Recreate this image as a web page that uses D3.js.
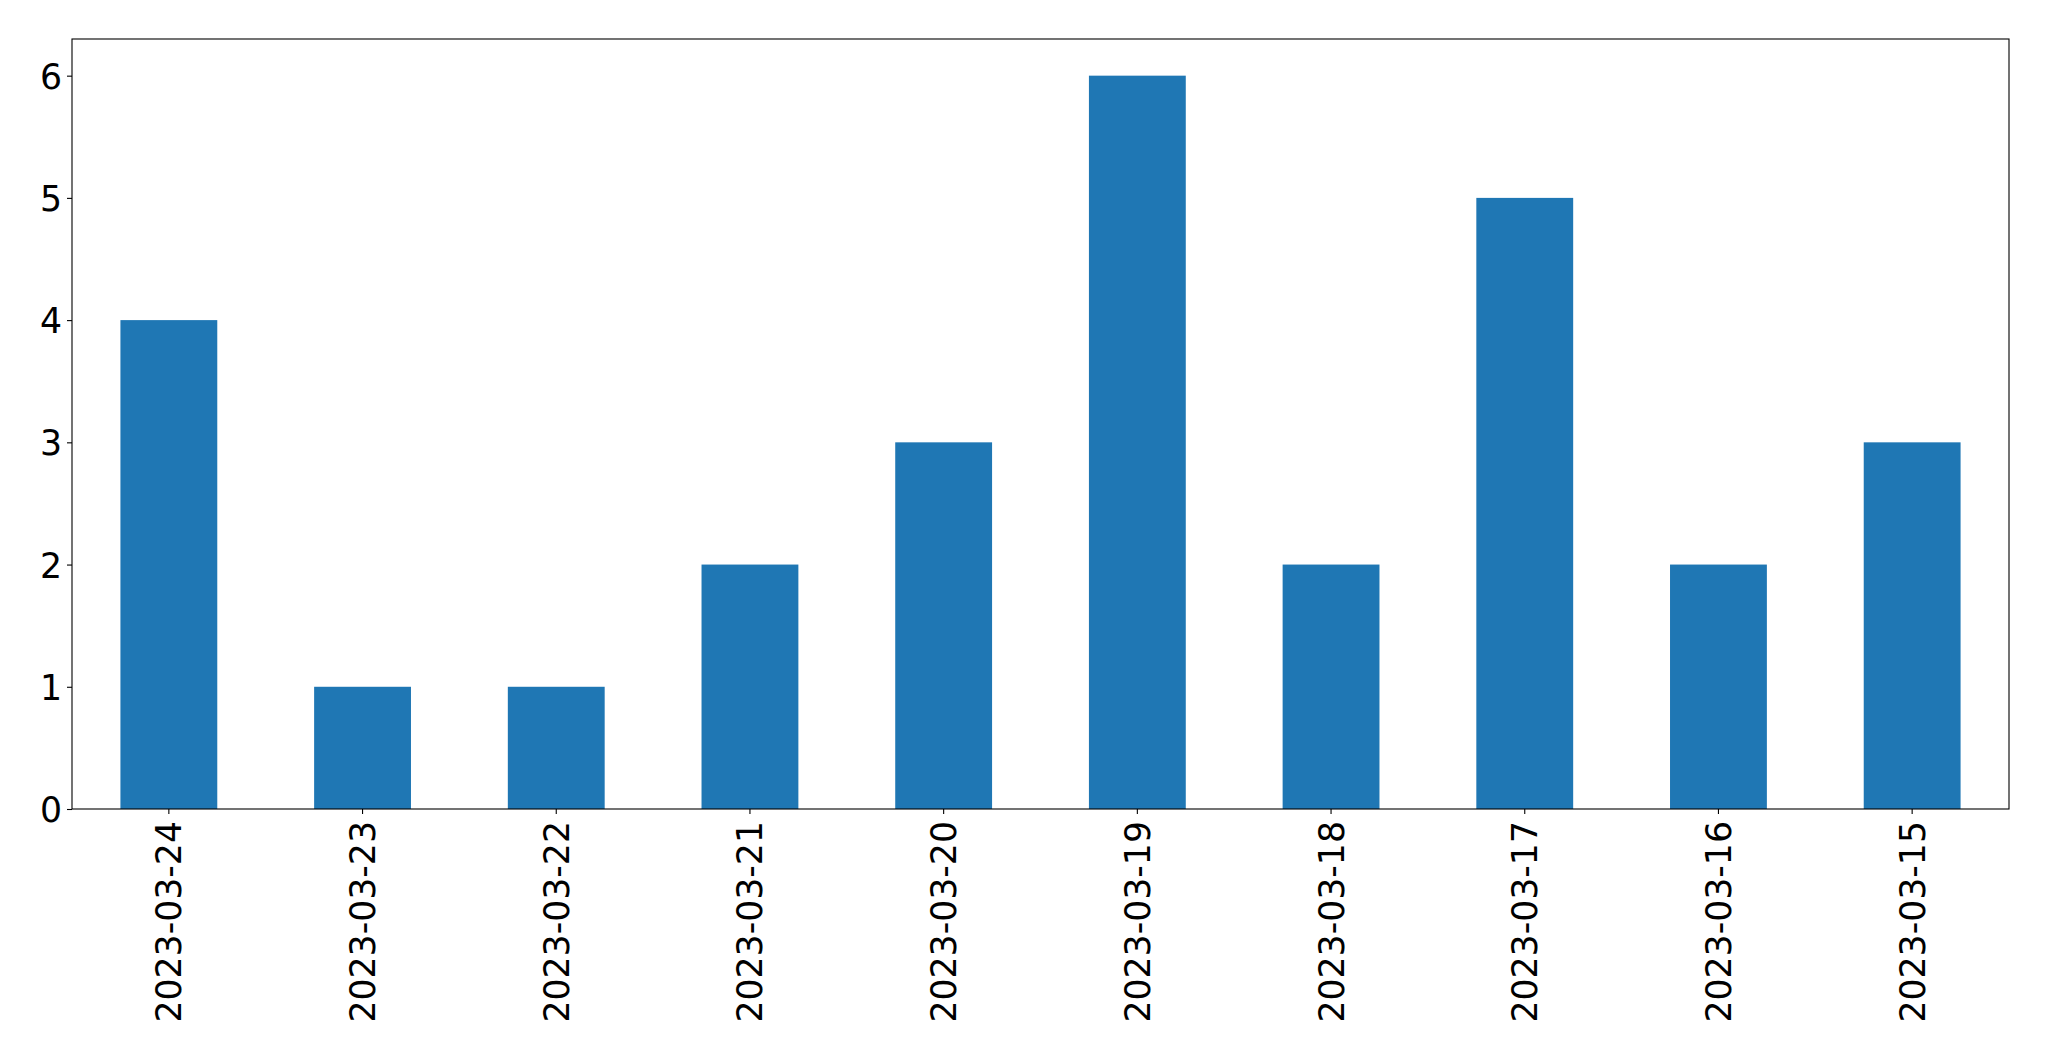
<!DOCTYPE html>
<html>
<head>
<meta charset="utf-8">
<script src="https://cdn.jsdelivr.net/npm/d3@7"></script>
<style>
  body { margin: 0; background: #fff; }
  svg { display: block; }
  .axis text { font-family: "DejaVu Sans", sans-serif; font-size: 34.7px; fill: #000; }
  .axis path, .axis line { stroke: #000; stroke-width: 1.1px; }
</style>
</head>
<body>
<script>
// data
var dates = ["2023-03-24", "2023-03-23", "2023-03-22", "2023-03-21", "2023-03-20",
             "2023-03-19", "2023-03-18", "2023-03-17", "2023-03-16", "2023-03-15"];
var counts = [4, 1, 1, 2, 3, 6, 2, 5, 2, 3];
var yTicks = [0, 1, 2, 3, 4, 5, 6];

var W = 2049, H = 1061;
var margin = {left: 72, right: 40, top: 39, bottom: 252},
    width = W - margin.left - margin.right,
    height = H - margin.top - margin.bottom;

var svg = d3.select("body").append("svg")
    .attr("width", W)
    .attr("height", H);

var g = svg.append("g")
    .attr("transform", "translate(" + margin.left + "," + margin.top + ")");

// bands of 1 unit, bar width 0.5 like pandas bar plot
var xScale = d3.scaleBand()
    .domain(dates)
    .range([0, width])
    .paddingInner(0.5)
    .paddingOuter(0.25);

var yScale = d3.scaleLinear()
    .domain([0, 6.3])
    .range([height, 0]);

g.selectAll(".bar")
    .data(dates)
    .enter().append("rect")
    .attr("class", "bar")
    .attr("x", function(d) { return xScale(d); })
    .attr("width", xScale.bandwidth())
    .attr("y", function(d, i) { return yScale(counts[i]); })
    .attr("height", function(d, i) { return height - yScale(counts[i]); })
    .attr("fill", "#1f77b4");

// frame
g.append("rect")
    .attr("width", width)
    .attr("height", height)
    .attr("fill", "none")
    .attr("stroke", "#000")
    .attr("stroke-width", 1.1);

var yAxis = d3.axisLeft(yScale)
    .tickValues(yTicks)
    .tickFormat(d3.format("d"))
    .tickSize(5)
    .tickPadding(5);

g.append("g")
    .attr("class", "axis")
    .call(yAxis)
    .call(function(s) { s.select(".domain").remove(); })
    .selectAll("text")
    .attr("dy", "0.36em");

var xAxis = d3.axisBottom(xScale)
    .tickSize(5)
    .tickPadding(5);

g.append("g")
    .attr("class", "axis")
    .attr("transform", "translate(0," + height + ")")
    .call(xAxis)
    .call(function(s) { s.select(".domain").remove(); })
    .selectAll("text")
    .attr("transform", "rotate(-90)")
    .attr("x", -12)
    .attr("y", 0)
    .attr("dy", "0.36em")
    .style("text-anchor", "end");
</script>
</body>
</html>
